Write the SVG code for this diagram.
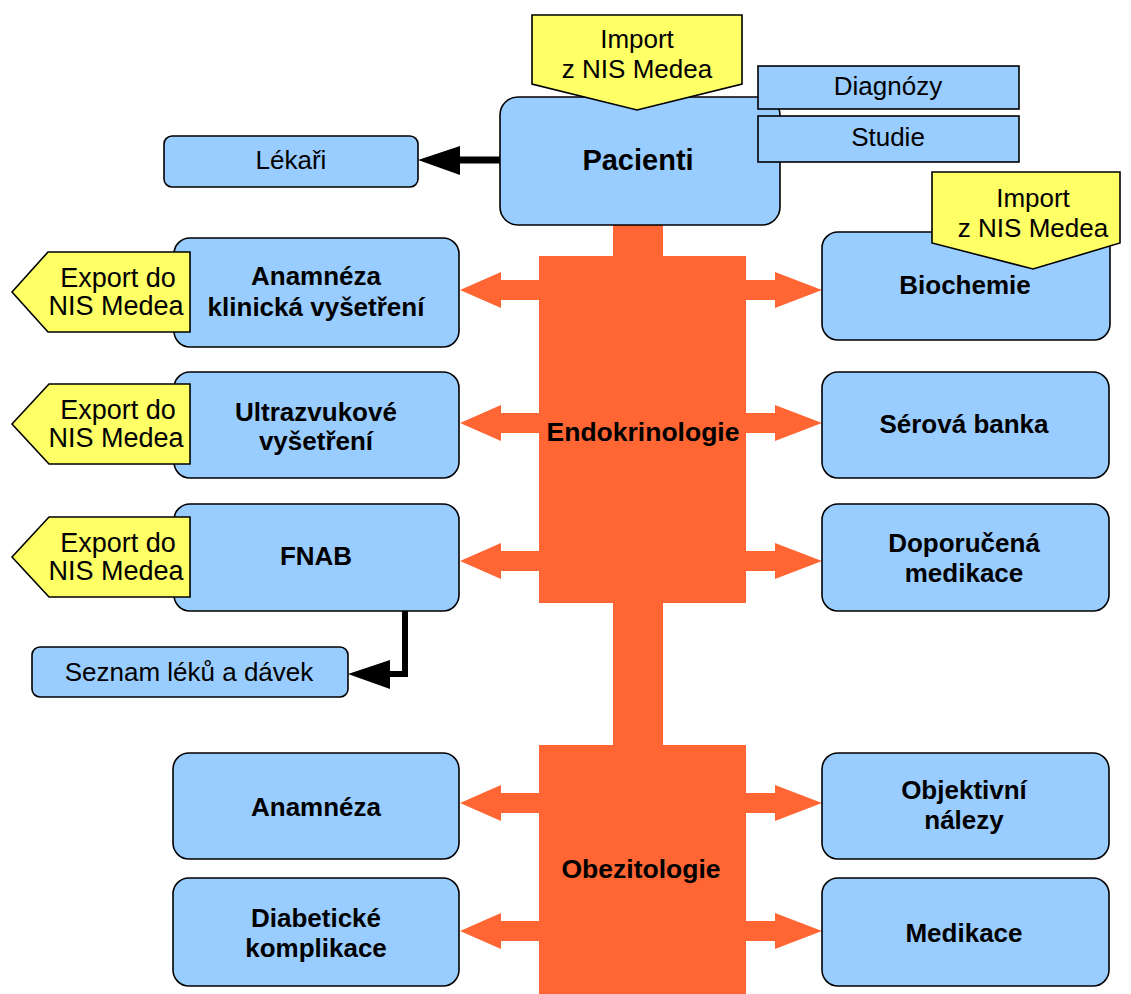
<svg xmlns="http://www.w3.org/2000/svg" width="1131" height="994" viewBox="0 0 1131 994">
<style>
.box{fill:#99CCFF;stroke:#000;stroke-width:1.6}
.sq{fill:#99CCFF;stroke:#000;stroke-width:1.6}
.call{fill:#FFFF66;stroke:#000;stroke-width:1.6}
.org{fill:#FF6633}
.t{font-family:"Liberation Sans",Arial,sans-serif;font-size:26px;fill:#000;text-anchor:middle}
.b{font-weight:bold}
</style>
<rect width="1131" height="994" fill="#fff"/>
<g id="connectors">
  <rect class="org" x="613" y="220" width="50" height="774"/>
  <g id="arrows-orange">
    <polygon class="org" points="539,280 501,280 501,272 460,290 501,308 501,300 539,300"/>
    <polygon class="org" points="539,413 501,413 501,405 460,423 501,441 501,433 539,433"/>
    <polygon class="org" points="539,551 501,551 501,543 460,561 501,579 501,571 539,571"/>
    <polygon class="org" points="746,280 775,280 775,272 822,290 775,308 775,300 746,300"/>
    <polygon class="org" points="746,413 775,413 775,405 822,423 775,441 775,433 746,433"/>
    <polygon class="org" points="746,551 775,551 775,543 822,561 775,579 775,571 746,571"/>
    <polygon class="org" points="539,793 501,793 501,785 460,803 501,821 501,813 539,813"/>
    <polygon class="org" points="539,921 501,921 501,913 460,931 501,949 501,941 539,941"/>
    <polygon class="org" points="746,793 775,793 775,785 822,803 775,821 775,813 746,813"/>
    <polygon class="org" points="746,921 775,921 775,913 822,931 775,949 775,941 746,941"/>
  </g>
  <g id="arrows-black">
    <line x1="500" y1="160" x2="455" y2="160" stroke="#000" stroke-width="7"/>
    <polygon points="418,160 460,146 460,175" fill="#000"/>
    <polyline points="405,611 405,674 386,674" fill="none" stroke="#000" stroke-width="6"/>
    <polygon points="348,674 390,660 390,689" fill="#000"/>
  </g>
</g>
<g id="endokrinologie">
  <rect class="org" x="539" y="256" width="207" height="347"/>
  <text class="t b" x="643" y="441" style="font-size:26.5px">Endokrinologie</text>
</g>
<g id="obezitologie">
  <rect class="org" x="539" y="745" width="207" height="249"/>
  <text class="t b" x="641" y="878" style="font-size:26.5px">Obezitologie</text>
</g>
<g id="pacienti">
  <rect class="box" x="500" y="97" width="280" height="128" rx="18"/>
  <text class="t b" x="638" y="170" style="font-size:29px">Pacienti</text>
</g>
<g id="import-pacienti">
  <polygon class="call" points="532,15 742,15 742,84 637,110 532,84"/>
  <text class="t" x="637" y="48">Import</text>
  <text class="t" x="637" y="78">z NIS Medea</text>
</g>
<g id="diagnozy">
  <rect class="sq" x="758" y="66" width="261" height="43"/>
  <text class="t" x="888" y="95">Diagnózy</text>
</g>
<g id="studie">
  <rect class="sq" x="758" y="116" width="261" height="46"/>
  <text class="t" x="888" y="146">Studie</text>
</g>
<g id="lekari">
  <rect class="box" x="164" y="136" width="254" height="51" rx="8"/>
  <text class="t" x="291" y="169">Lékaři</text>
</g>
<g id="anamneza-klinicka">
  <rect class="box" x="174" y="238" width="285" height="109" rx="16"/>
  <text class="t b" x="316" y="285">Anamnéza</text>
  <text class="t b" x="316" y="316">klinická vyšetření</text>
</g>
<g id="export-1">
  <polygon class="call" points="12,292 48,252 190,252 190,332 48,332"/>
  <text class="t" x="118" y="287" style="font-size:27px">Export do</text>
  <text class="t" x="116" y="315" style="font-size:27px">NIS Medea</text>
</g>
<g id="ultrazvukove">
  <rect class="box" x="174" y="372" width="285" height="106" rx="16"/>
  <text class="t b" x="316" y="421">Ultrazvukové</text>
  <text class="t b" x="316" y="450">vyšetření</text>
</g>
<g id="export-2">
  <polygon class="call" points="12,424 49,384 190,384 190,464 49,464"/>
  <text class="t" x="118" y="419" style="font-size:27px">Export do</text>
  <text class="t" x="116" y="447" style="font-size:27px">NIS Medea</text>
</g>
<g id="fnab">
  <rect class="box" x="174" y="504" width="285" height="107" rx="16"/>
  <text class="t b" x="316" y="565">FNAB</text>
</g>
<g id="export-3">
  <polygon class="call" points="12,557 49,517 190,517 190,597 49,597"/>
  <text class="t" x="118" y="552" style="font-size:27px">Export do</text>
  <text class="t" x="116" y="580" style="font-size:27px">NIS Medea</text>
</g>
<g id="seznam">
  <rect class="box" x="32" y="647" width="316" height="50" rx="8"/>
  <text class="t" x="189" y="681">Seznam léků a dávek</text>
</g>
<g id="biochemie">
  <rect class="box" x="822" y="232" width="288" height="108" rx="16"/>
  <text class="t b" x="965" y="294">Biochemie</text>
</g>
<g id="import-biochemie">
  <polygon class="call" points="932,172 1120,172 1120,243 1033,269 932,243"/>
  <text class="t" x="1033" y="207">Import</text>
  <text class="t" x="1033" y="237">z NIS Medea</text>
</g>
<g id="serova-banka">
  <rect class="box" x="822" y="372" width="287" height="106" rx="16"/>
  <text class="t b" x="964" y="433">Sérová banka</text>
</g>
<g id="doporucena-medikace">
  <rect class="box" x="822" y="504" width="287" height="107" rx="16"/>
  <text class="t b" x="964" y="552">Doporučená</text>
  <text class="t b" x="964" y="582">medikace</text>
</g>
<g id="anamneza">
  <rect class="box" x="173" y="753" width="286" height="106" rx="16"/>
  <text class="t b" x="316" y="816">Anamnéza</text>
</g>
<g id="diabeticke-komplikace">
  <rect class="box" x="173" y="878" width="286" height="108" rx="16"/>
  <text class="t b" x="316" y="927">Diabetické</text>
  <text class="t b" x="316" y="957">komplikace</text>
</g>
<g id="objektivni-nalezy">
  <rect class="box" x="822" y="753" width="287" height="106" rx="16"/>
  <text class="t b" x="964" y="799">Objektivní</text>
  <text class="t b" x="964" y="829">nálezy</text>
</g>
<g id="medikace">
  <rect class="box" x="822" y="878" width="287" height="108" rx="16"/>
  <text class="t b" x="964" y="942">Medikace</text>
</g>
</svg>
